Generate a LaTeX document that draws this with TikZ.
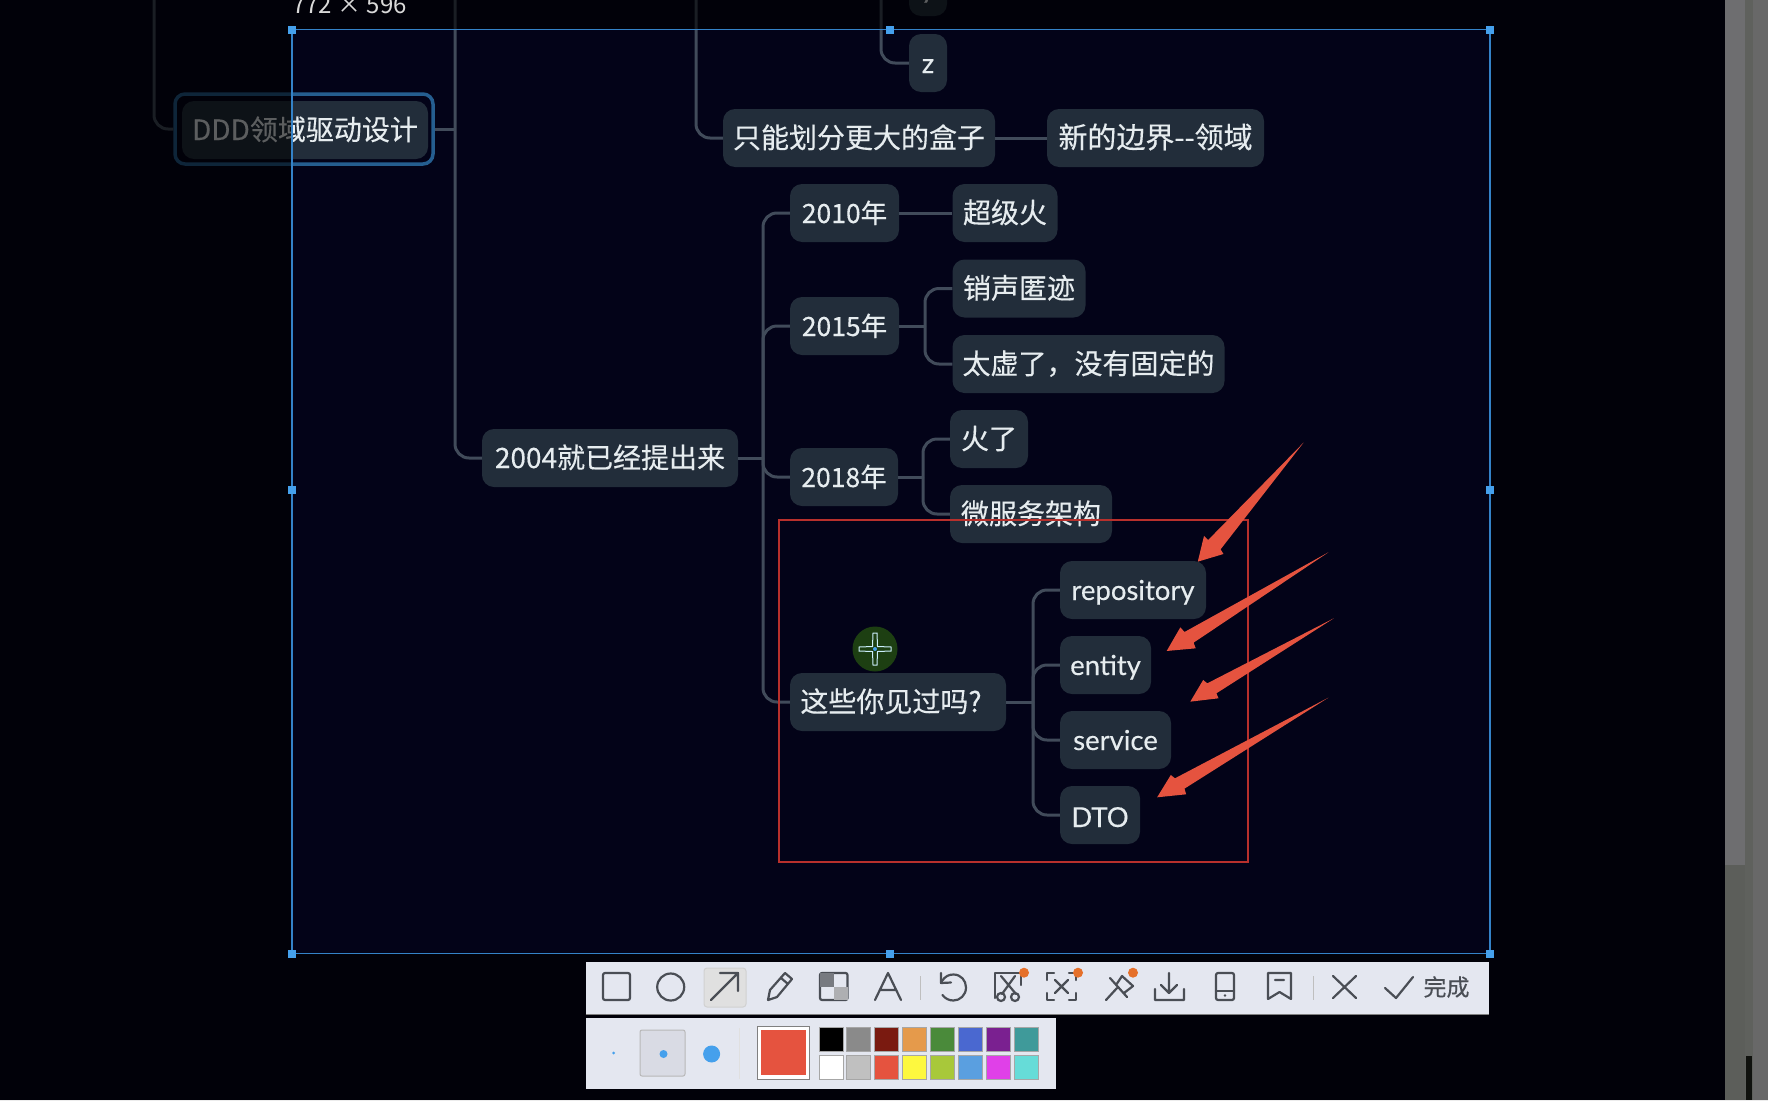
\documentclass[tikz,border=0pt]{standalone}
\usepackage{fontspec}
\setmainfont{Noto Sans CJK SC}
\newfontfamily\mindfont{Noto Sans CJK SC}[FakeBold=0.3]
\newfontfamily\latfont{Lato}[FakeBold=0.3]
\usetikzlibrary{calc}
\definecolor{pagebg}{HTML}{030318}
\definecolor{nodebg}{HTML}{222D3A}
\definecolor{nodetx}{HTML}{E6ECEF}
\definecolor{edgecol}{HTML}{414B5A}
\definecolor{selblue}{HTML}{3482C8}
\definecolor{handleblue}{HTML}{45A0EC}
\definecolor{redbox}{HTML}{B8302C}
\definecolor{redarrow}{HTML}{E5533F}
\definecolor{barbg}{HTML}{E4E7F0}
\definecolor{iconcol}{HTML}{4A4E55}
\definecolor{dotorange}{HTML}{E5702A}
\definecolor{cursorbg}{HTML}{1D3F12}
\definecolor{sideA}{HTML}{6E6E70}
\definecolor{sideB}{HTML}{5C5E5A}
\definecolor{sideC}{HTML}{686868}
\definecolor{sideD}{HTML}{5F615D}
\definecolor{sideE}{HTML}{10120E}
\tikzset{
 x=1pt,y=-1pt,
 mind/.style={fill=nodebg,text=nodetx,rounded corners=12pt,inner sep=0pt,font=\fontsize{28}{30}\mindfont,text height=23pt,text depth=3pt,minimum height=58pt,anchor=center},
 yearnode/.style={mind,font=\fontsize{26.5}{30}\mindfont},
 latin/.style={mind,font=\fontsize{27.5}{30}\latfont,text height=23pt,text depth=3pt},
 edgeline/.style={draw=edgecol,line width=3pt},
 curved/.style={edgeline,rounded corners=14pt},
 handle/.style={fill=handleblue,minimum size=8pt,inner sep=0pt,draw=none},
 icon/.style={draw=iconcol,line width=2.2pt,line cap=round,line join=round},
 swatch/.style={draw=gray!70,line width=.8pt,minimum width=24pt,minimum height=24pt,inner sep=0pt},
 odot/.style={circle,fill=dotorange,minimum size=10pt,inner sep=0pt},
 arrowpoly/.style={fill=redarrow,draw=none},
}
\begin{document}
\begin{tikzpicture}
\useasboundingbox (0,0) rectangle (1768,1100);
\fill[pagebg] (0,0) rectangle (1768,1100);
\begin{scope}
\clip (0,0) rectangle (1768,1100);
% spine coordinates
\coordinate (topA) at (154,0);
\coordinate (topB) at (455,0);
\coordinate (topC) at (696,0);
\coordinate (topD) at (881,0);
\coordinate (sA) at (763,0);
\coordinate (sB) at (925,0);
\coordinate (sC) at (923,0);
\coordinate (sD) at (1033,0);
% nodes
\node[draw=selblue!72!black,line width=3.5pt,rounded corners=10pt,minimum width=258pt,minimum height=70pt,inner sep=0pt] (ddhl) at (304,129) {};
\node[mind,minimum width=246pt] (ddd) at (305,130) {DDD领域驱动设计};
\node[mind,minimum width=256pt] (n2004) at (610,458) {2004就已经提出来};
\node[mind,minimum width=272pt] (box) at (859,138) {只能划分更大的盒子};
\node[mind,minimum width=217pt,font=\fontsize{29}{30}\mindfont] (border) at (1155.5,138) {新的边界-{}-领域};
\node[latin,minimum width=38pt] (zz) at (928,63) {z};
\node[latin,minimum width=38pt,text height=24pt,text depth=2pt] (yy) at (928,-13) {y};
\node[yearnode,minimum width=109pt] (y2010) at (844.5,213) {2010年};
\node[mind,minimum width=105pt] (hot) at (1005,213) {超级火};
\node[yearnode,minimum width=109pt] (y2015) at (844.5,326) {2015年};
\node[mind,minimum width=133pt] (gone) at (1019,288.5) {销声匿迹};
\node[mind,minimum width=272pt] (vague) at (1088.5,364) {太虚了，没有固定的};
\node[yearnode,minimum width=108pt] (y2018) at (844,477) {2018年};
\node[mind,minimum width=78pt] (fire) at (989,439) {火了};
\node[mind,minimum width=162pt] (micro) at (1031,514) {微服务架构};
\node[mind,minimum width=216pt] (seen) at (898,702) {这些你见过吗?\hspace*{14pt}};
\node[latin,minimum width=146pt] (repo) at (1133,590) {repository};
\node[latin,minimum width=91pt] (ent) at (1105.5,665) {entity};
\node[latin,minimum width=111pt] (svc) at (1115.5,740) {service};
\node[latin,minimum width=80pt,text height=25pt,text depth=1pt] (dto) at (1100,815) {DTO};
% connectors
\draw[curved] (topA) |- (ddhl.west);
\draw[curved] (topB) |- (n2004.west);
\draw[edgeline] (ddhl.east) -- (ddhl.east -| topB);
\draw[curved] (topC) |- (box.west);
\draw[curved] (topD) |- (zz.west);
\draw[edgeline] (box.east) -- (border.west);
\draw[edgeline] (n2004.east) -- (n2004.east -| sA);
\draw[curved] (n2004.east -| sA) |- (y2010.west);
\draw[curved] (n2004.east -| sA) |- (y2015.west);
\draw[curved] (n2004.east -| sA) |- (y2018.west);
\draw[curved] (n2004.east -| sA) |- (seen.west);
\draw[edgeline] (y2010.east) -- (hot.west);
\draw[edgeline] (y2015.east) -- (y2015.east -| sB);
\draw[curved] (y2015.east -| sB) |- (gone.west);
\draw[curved] (y2015.east -| sB) |- (vague.west);
\draw[edgeline] (y2018.east) -- (y2018.east -| sC);
\draw[curved] (y2018.east -| sC) |- (fire.west);
\draw[curved] (y2018.east -| sC) |- (micro.west);
\draw[edgeline] (seen.east) -- (seen.east -| sD);
\draw[curved] (seen.east -| sD) |- (repo.west);
\draw[curved] (seen.east -| sD) |- (ent.west);
\draw[curved] (seen.east -| sD) |- (svc.west);
\draw[curved] (seen.east -| sD) |- (dto.west);
% dimming outside selection
\fill[black,opacity=.6,even odd rule] (0,0) rectangle (1768,1100) (292,29.5) rectangle (1490,953.5);
\node[text=white!85!black,font=\fontsize{24}{26}\selectfont,anchor=base west,inner sep=0pt] (size) at (292,13) {772 × 596};
% selection
\draw[selblue,line width=1.8pt] (292,29.5) rectangle (1490,953.5);
\foreach \nm/\px/\py in {ha/292/29.5,hb/890/29.5,hc/1490/29.5,hd/292/490,he/1490/490,hf/292/953.5,hg/890/953.5,hh/1490/953.5}
  \node[handle] (\nm) at (\px,\py) {};
% red box
\draw[redbox,line width=2pt] (779,519.5) rectangle (1247.5,861.5);
% red arrows (coordinates in a 2.412:3 scaled frame)
\begin{scope}[shift={(750,430)},x=0.4146pt,y=-0.3333pt]
\fill[arrowpoly] (1335,38) -- (1135,358) -- (1142,372) -- (1080,395) -- (1095,318) -- (1105,330) -- cycle;
\fill[arrowpoly] (1395,367) -- (1070,638) -- (1075,655) -- (1005,663) -- (1038,592) -- (1048,606) -- cycle;
\fill[arrowpoly] (1408,565) -- (1125,790) -- (1130,805) -- (1062,815) -- (1093,750) -- (1103,760) -- cycle;
\fill[arrowpoly] (1395,803) -- (1048,1076) -- (1052,1093) -- (982,1102) -- (1015,1035) -- (1025,1045) -- cycle;
\end{scope}
% cursor
\fill[cursorbg] (875,649) circle (22.5);
\draw[white!80!cyan,line width=1pt,fill=cursorbg] (873,633) -- (877,633) -- (877.5,646.5) -- (891,647) -- (891,651) -- (877.5,651.5) -- (877,665) -- (873,665) -- (872.5,651.5) -- (859,651) -- (859,647) -- (872.5,646.5) -- cycle;
\fill[handleblue] (875,649) circle (2);
% side bar
\fill[sideC] (1725,0) rectangle (1768,1100);
\fill[sideD] (1745,0) rectangle (1753,1100);
\fill[sideA] (1725,0) rectangle (1745,865);
\fill[sideB] (1725,865) rectangle (1745,1100);
\fill[sideE] (1746,1056) rectangle (1752,1100);
% toolbars
\fill[barbg] (585.5,962) rectangle (1489,1014);
\draw[gray,line width=.8pt] (585.5,1014) -- (1489,1014);
\fill[barbg] (585.5,1018) rectangle (1056,1089);
% top bar icons
\draw[icon,rounded corners=2pt] (603,973) rectangle (630,1000);
\draw[icon] (670.7,987) circle (13.5);
\draw[fill=black!12,draw=black!18,line width=1pt,rounded corners=3pt] (704,968) rectangle (746,1007);
\draw[icon] (711,1000) -- (738,973) (720,973) -- (738,973) -- (738,991);
\draw[icon] (768,1000) -- (770,990) -- (785,973) -- (792,979) -- (777,997) -- cycle (781,978) -- (788,984);
\draw[icon,rounded corners=2pt] (820,973) rectangle (847.5,1000);
\fill[iconcol!75] (820,973) rectangle (834,987);
\fill[iconcol!45] (834,987) rectangle (847.5,1000);
\draw[icon] (875,1000) -- (888,973) -- (901,1000) (880,990) -- (896,990);
\draw[black!25,line width=1pt] (920,976) -- (920,1000);
\draw[icon] (941.7,981.5) .. controls (945,976) and (949,974.5) .. (953.5,974.5) .. controls (961,974.5) and (966,980.5) .. (966,987.5) .. controls (966,995) and (960,1000.5) .. (953.5,1000.5) .. controls (949,1000.5) and (945,998.5) .. (942.5,995);
\draw[icon] (941,973) -- (941,983) -- (951,982.5);
% scissors
\draw[icon] (995,998) -- (995,973) -- (1021,973) -- (1021,985);
\draw[icon] (1001,976) -- (1016,994) (1015,976) -- (1002,994);
\draw[icon] (1001,997) circle (4) (1015,997) circle (4);
\node[odot] (d1) at (1024,972.7) {};
% focus
\draw[icon] (1047,980) -- (1047,973) -- (1054,973) (1069,973) -- (1076,973) -- (1076,980) (1047,993) -- (1047,1000) -- (1054,1000) (1069,1000) -- (1076,1000) -- (1076,993);
\draw[icon] (1055,980) -- (1068,993) (1068,980) -- (1055,993);
\node[odot] (d2) at (1078,972.7) {};
% pin
\draw[icon] (1106,1000) -- (1117,988) (1110,978) -- (1127,997) (1116,985) -- (1122,976) -- (1133,986) -- (1124,993);
\node[odot] (d3) at (1133,972.7) {};
% download
\draw[icon] (1169,973) -- (1169,993) (1161,985) -- (1169,993) -- (1177,985) (1155,989) -- (1155,1000) -- (1184,1000) -- (1184,989);
% phone
\draw[icon,rounded corners=2pt] (1216,973) rectangle (1234,1000);
\draw[icon] (1216,991) -- (1234,991);
\fill[iconcol] (1225,995.5) circle (1.3);
% bookmark
\draw[icon] (1268,973) -- (1291,973) -- (1291,999) -- (1279.5,992) -- (1268,999) -- cycle (1275,980) -- (1284,980);
\draw[black!25,line width=1pt] (1313,976) -- (1313,1000);
% close
\draw[icon] (1333,976) -- (1356,998) (1356,976) -- (1333,998);
% done
\draw[icon] (1385,988) -- (1396,998) -- (1413,977);
\node[text=iconcol,font=\fontsize{23}{24}\mindfont,inner sep=0pt] (done) at (1446.5,987) {完成};
% lower bar
\fill[handleblue] (613.7,1053) circle (1.5);
\draw[fill=barbg!95!black,draw=black!28,line width=1pt,rounded corners=2pt] (640,1030) rectangle (685,1076);
\fill[handleblue] (663.5,1054) circle (4);
\fill[handleblue] (711.6,1054) circle (8.5);
\draw[black!12,line width=1pt] (739.4,1028) -- (739.4,1079);
\draw[fill=white,draw=gray,line width=1pt] (757,1026) rectangle (809.6,1079);
\fill[redarrow] (760.6,1030) rectangle (806,1075);
\foreach \nm/\px/\py/\col in {
 a/819/1039.5/000000,b/846.3/1039.5/8A8A8A,c/874/1039.5/7A1A10,d/902/1039.5/E59A4B,
 e/930/1039.5/4A8A3A,f/958/1039.5/4A68D0,g/986.3/1039.5/7A2090,h/1014.5/1039.5/3F9A9A,
 i/819/1067.5/FFFFFF,j/846.3/1067.5/C0C0C0,k/874/1067.5/E5533F,l/902/1067.5/FDF83F,
 m/930/1067.5/A8C83A,n/958/1067.5/5A9FE0,o/986.3/1067.5/E040E8,p/1014.5/1067.5/66DCD8}{
 \definecolor{swc}{HTML}{\col}
 \node[swatch,fill=swc] (sw\nm) at (\px+12,\py) {};
}
\end{scope}
\end{tikzpicture}
\end{document}
